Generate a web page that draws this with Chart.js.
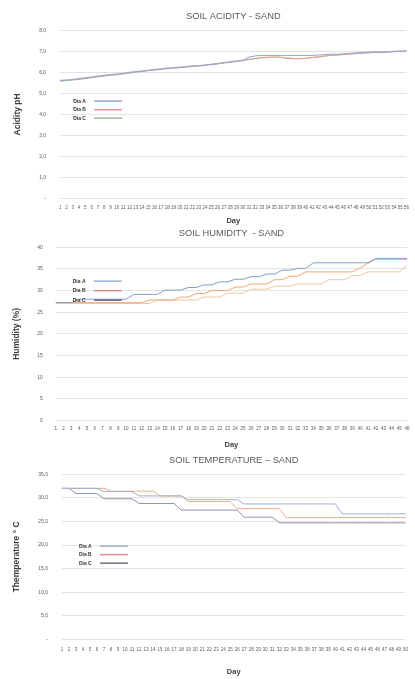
<!DOCTYPE html>
<html>
<head>
<meta charset="utf-8">
<script src="https://cdn.jsdelivr.net/npm/chart.js@4/dist/chart.umd.min.js"></script>
<style>
  html, body { margin: 0; padding: 0; background: #fff; }
  body { width: 415px; height: 679px; position: relative; overflow: hidden; }
  .box { position: absolute; left: 0; width: 415px; }
</style>
</head>
<body>
<div class="box" style="top:0;height:226px"><canvas id="acidChart"></canvas></div>
<div class="box" style="top:224px;height:226px"><canvas id="humChart"></canvas></div>
<div class="box" style="top:450px;height:229px"><canvas id="tempChart"></canvas></div>
<script>
// series names
const seriesNames = ['Dia A', 'Dia B', 'Dia C'];

// acidity (pH), 56 days
const acidDays = ['1','2','3','4','5','6','7','8','9','10','11','12','13','14','15','16','17','18','19','20','21','22','23','24','25','26','27','28','29','30','31','32','33','34','35','36','37','38','39','40','41','42','43','44','45','46','47','48','49','50','51','52','53','54','55','56'];
const acidA = [5.60,5.62,5.65,5.68,5.72,5.76,5.80,5.84,5.88,5.90, 5.94,5.98,6.02,6.05,6.08,6.12,6.15,6.18,6.20,6.22, 6.25,6.28,6.30,6.33,6.36,6.40,6.44,6.48,6.52,6.55, 6.72,6.78,6.80,6.80,6.80,6.80,6.80,6.80,6.80,6.80, 6.80,6.82,6.84,6.86,6.86,6.88,6.90,6.92,6.94,6.96, 6.96,6.94,6.96,6.98,7.00,7.02];
const acidB = [5.62,5.64,5.66,5.70,5.74,5.78,5.82,5.86,5.90,5.92, 5.96,6.00,6.04,6.06,6.10,6.14,6.16,6.20,6.22,6.25, 6.28,6.30,6.32,6.35,6.38,6.42,6.46,6.50,6.54,6.58, 6.62,6.66,6.70,6.72,6.72,6.70,6.66,6.64,6.64,6.66, 6.70,6.74,6.78,6.80,6.82,6.84,6.86,6.90,6.92,6.94, 6.96,6.98,6.98,7.00,7.00,7.00];
const acidC = [5.58,5.60,5.63,5.66,5.70,5.74,5.78,5.82,5.85,5.88, 5.92,5.96,6.00,6.04,6.08,6.10,6.14,6.17,6.20,6.23, 6.26,6.28,6.30,6.34,6.38,6.40,6.45,6.48,6.52,6.56, 6.60,6.64,6.68,6.70,6.72,6.72,6.68,6.66,6.65,6.66, 6.70,6.72,6.76,6.80,6.82,6.84,6.86,6.88,6.90,6.92, 6.94,6.95,6.96,6.98,6.98,7.00];

// humidity (%), 46 days
const humDays = ['1','2','3','4','5','6','7','8','9','10','11','12','13','14','15','16','17','18','19','20','21','22','23','24','25','26','27','28','29','30','31','32','33','34','35','36','37','38','39','40','41','42','43','44','45','46'];
const humA = [27.2,27.2,27.2,28.0,28.0,28.0,28.0,28.0,28.0,28.0, 29.1,29.1,29.1,29.1,30.1,30.1,30.1,30.7,30.7,31.3, 31.3,32.0,32.0,32.6,32.6,33.2,33.2,33.8,33.8,34.7, 34.7,35.1,35.1,36.4,36.4,36.4,36.4,36.4,36.4,36.4, 36.4,37.4,37.4,37.4,37.4,37.4];
const humB = [27.2,27.2,27.2,27.2,27.2,27.2,27.2,27.2,27.2,27.2, 27.2,27.2,27.8,27.8,27.8,27.8,28.5,28.5,29.3,29.3, 30.0,30.0,30.0,30.8,30.8,31.5,31.5,31.5,32.5,32.5, 33.3,33.3,34.3,34.3,34.3,34.3,34.3,34.3,34.3,35.2, 36.3,37.2,37.2,37.2,37.2,37.2];
const humC = [27.0,27.0,27.0,27.0,27.0,27.0,27.0,27.0,27.0,27.0, 27.0,27.0,27.0,27.8,27.8,27.8,27.8,27.8,27.8,28.5, 28.5,28.5,29.4,29.4,29.4,30.3,30.3,30.3,31.0,31.0, 31.0,31.5,31.5,31.5,31.5,32.5,32.5,32.5,33.5,33.5, 34.3,34.3,34.3,34.3,34.3,35.8];

// temperature (°C), 50 days
const tempDays = ['1','2','3','4','5','6','7','8','9','10','11','12','13','14','15','16','17','18','19','20','21','22','23','24','25','26','27','28','29','30','31','32','33','34','35','36','37','38','39','40','41','42','43','44','45','46','47','48','49','50'];
const tempA = [32.0,32.0,32.0,32.0,32.0,32.0,31.3,31.3,31.3,31.3, 31.3,30.4,30.4,30.4,30.4,30.4,30.4,30.4,29.6,29.6, 29.6,29.6,29.6,29.6,29.6,29.6,28.7,28.7,28.7,28.7, 28.7,28.7,28.7,28.7,28.7,28.7,28.7,28.7,28.7,28.7, 26.6,26.6,26.6,26.6,26.6,26.6,26.6,26.6,26.6,26.6];
const tempB = [32.0,32.0,32.0,32.0,32.0,32.0,32.0,31.4,31.4,31.4, 31.4,31.4,31.4,31.4,30.4,30.4,30.4,30.4,29.2,29.2, 29.2,29.2,29.2,29.2,29.2,27.7,27.7,27.7,27.7,27.7, 27.7,27.7,25.8,25.8,25.8,25.8,25.8,25.8,25.8,25.8, 25.8,25.8,25.8,25.8,25.8,25.8,25.8,25.8,25.8,25.8];
const tempC = [32.0,32.0,30.9,30.9,30.9,30.9,29.8,29.8,29.8,29.8, 29.8,28.8,28.8,28.8,28.8,28.8,28.8,27.4,27.4,27.4, 27.4,27.4,27.4,27.4,27.4,27.4,25.9,25.9,25.9,25.9, 25.9,24.7,24.7,24.7,24.7,24.7,24.7,24.7,24.7,24.7, 24.7,24.7,24.7,24.7,24.7,24.7,24.7,24.7,24.7,24.7];

const FONT = "'Liberation Sans', Arial, sans-serif";
const GREY = '#595959';

// legend drawn inside the plot: label first, then a short line
const innerLegend = {
    id: 'innerLegend',
    afterDatasetsDraw(chart, args, opts) {
        const { ctx, chartArea } = chart;
        ctx.save();
        ctx.font = 'bold 5px ' + FONT;
        ctx.textBaseline = 'middle';
        chart.data.datasets.forEach((ds, i) => {
            const x = chartArea.left + opts.left;
            const y = chartArea.top + opts.top + i * opts.gap;
            ctx.fillStyle = '#333';
            ctx.fillText(ds.label, x, y);
            ctx.strokeStyle = opts.colors ? opts.colors[i] : ds.borderColor;
            ctx.lineWidth = 1.5;
            ctx.beginPath();
            ctx.moveTo(x + 21, y);
            ctx.lineTo(x + 49, y);
            ctx.stroke();
        });
        ctx.restore();
    }
};

function commaTick(v) {
    if (v === 0) return '-';
    return v.toFixed(1).replace('.', ',');
}

function makeChart(id, title, yTitle, labels, series, colors, yMax, tickFmt, pad, yTickPad, tickPad, dayPad, legendPos) {
    const ctx = document.getElementById(id).getContext('2d');
    return new Chart(ctx, {
        type: 'line',
        data: {
            labels: labels,
            datasets: series.map((d, i) => ({
                label: seriesNames[i],
                data: d,
                borderColor: colors[i],
                borderWidth: 1,
                pointRadius: 0,
                tension: 0,
                fill: false
            }))
        },
        options: {
            responsive: true,
            maintainAspectRatio: false,
            animation: false,
            layout: { padding: pad },
            plugins: {
                legend: { display: false },
                tooltip: { enabled: false },
                title: {
                    display: true,
                    text: title,
                    fullSize: false,
                    color: GREY,
                    font: { family: FONT, size: 9.3, weight: 'normal' },
                    padding: { top: 0, bottom: 8 }
                },
                innerLegend: legendPos
            },
            scales: {
                x: {
                    grid: { display: false, drawTicks: false, tickLength: 0 },
                    border: { display: false },
                    ticks: {
                        autoSkip: false,
                        maxRotation: 0,
                        minRotation: 0,
                        color: GREY,
                        padding: tickPad,
                        font: { family: FONT, size: 4.5 }
                    },
                    title: {
                        display: true,
                        text: 'Day',
                        color: '#404040',
                        font: { family: FONT, size: 7.5, weight: 'bold' },
                        padding: { top: dayPad, bottom: 0 }
                    }
                },
                y: {
                    min: 0,
                    max: yMax,
                    grid: { color: '#e3e3e3', lineWidth: 1, drawTicks: false },
                    border: { display: false },
                    ticks: {
                        stepSize: yMax === 8 ? 1 : 5,
                        color: GREY,
                        padding: yTickPad,
                        font: { family: FONT, size: 5 },
                        callback: tickFmt
                    },
                    title: {
                        display: true,
                        text: yTitle,
                        color: '#404040',
                        font: { family: FONT, size: 8.5, weight: 'bold' },
                        padding: { top: 0, bottom: 2 }
                    }
                }
            }
        },
        plugins: [innerLegend]
    });
}

makeChart('acidChart', 'SOIL ACIDITY - SAND', 'Acidity pH', acidDays,
    [acidA, acidB, acidC], ['#8ea6d8', '#e8a08c', '#a3c49a'], 8, commaTick,
    { top: 11, left: 13, right: 2, bottom: 1 }, 14, 6, 0,
    { left: 13, top: 71, gap: 8.5, colors: ['#8ea6d8', '#ec8f97', '#8fbf95'] });

makeChart('humChart', 'SOIL HUMIDITY  - SAND', 'Humidity (%)', humDays,
    [humA, humB, humC], ['#7f9fd2', '#eda574', '#f1c79f'], 40, v => String(v),
    { top: 4, left: 12, right: 8, bottom: 1 }, 13, 5, 4,
    { left: 17, top: 34, gap: 9.5, colors: ['#8fb3d9', '#e3878c', '#5d6577'] });

makeChart('tempChart', 'SOIL TEMPERATURE \u2013 SAND', 'Themperature \u00b0 C', tempDays,
    [tempA, tempB, tempC], ['#9fb0cf', '#f0ad86', '#8a93a8'], 35, commaTick,
    { top: 5, left: 12, right: 2, bottom: 3 }, 14, 7, 8,
    { left: 17, top: 72, gap: 8.5, colors: ['#9fb0cf', '#e98c96', '#6d7384'] });
</script>
</body>
</html>
